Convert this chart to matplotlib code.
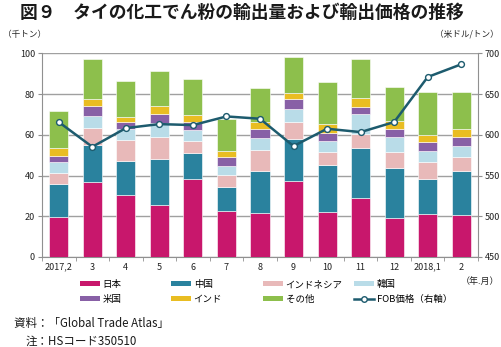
import matplotlib
matplotlib.use("Agg")
import matplotlib.pyplot as plt
import numpy as np
from matplotlib.patches import Patch
from matplotlib.lines import Line2D

plt.rcParams['font.family'] = ['Noto Sans CJK JP', 'DejaVu Sans']

categories = ["2017,2", "3", "4", "5", "6", "7", "8", "9", "10", "11", "12", "2018,1", "2"]
japan     = [19.7, 36.9, 30.5, 25.6, 38.5, 22.6, 21.8, 37.4, 22.1, 29.2, 19.3, 21.3, 20.8]
china     = [15.9, 18.3, 16.4, 22.3, 12.6, 11.8, 20.2, 20.6, 23.0, 24.2, 24.3, 17.1, 21.2]
indonesia = [5.4, 7.9, 10.6, 10.8, 5.9, 5.9, 10.6, 8.1, 6.4, 6.8, 7.9, 8.3, 7.0]
korea     = [5.6, 6.2, 5.1, 6.9, 5.3, 4.6, 5.9, 6.4, 5.5, 10.0, 7.2, 5.4, 5.4]
usa       = [3.2, 4.6, 3.5, 4.4, 3.8, 4.3, 4.3, 4.9, 4.0, 3.4, 4.3, 4.5, 4.6]
india     = [3.6, 3.6, 2.4, 3.9, 3.4, 2.8, 3.6, 3.3, 4.1, 4.6, 3.7, 3.4, 3.6]
others    = [18.4, 19.7, 17.9, 17.6, 17.7, 15.9, 16.6, 17.3, 20.6, 19.0, 16.6, 20.8, 18.4]
fob_price = [615.6, 585.2, 608.2, 613.1, 611.9, 622.5, 619.7, 586.1, 607.4, 603.3, 615.6, 670.9, 686.5]

series_names = ["日本", "中国", "インドネシア", "韓国", "米国", "インド", "その他"]
series_vals = [japan, china, indonesia, korea, usa, india, others]
colors = ["#C8176C", "#2A829E", "#E8B9B9", "#B9DCE8", "#8860A6", "#E9BD22", "#8DBF4C"]
line_color = "#1D5B6E"
line_name = "FOB価格（右軸）"

fig = plt.figure(figsize=(5.01, 3.47), dpi=100)
ax = fig.add_axes([42/501, 1-257/347, (478-42)/501, (257-53.3)/347])

x = np.arange(len(categories))
bottom = np.zeros(len(categories))
for name, vals, c in zip(series_names, series_vals, colors):
    ax.bar(x, vals, width=0.57, bottom=bottom, color=c, edgecolor='white', linewidth=0.4, zorder=3)
    bottom += np.array(vals)

ax.set_xlim(-0.5, len(categories)-0.5)
ax.set_ylim(0, 100)
ax.set_yticks(np.arange(0, 101, 20))
ax.yaxis.grid(True, color='#A0A0A0', linewidth=1.0, zorder=0)
ax.set_axisbelow(True)
for s in ['top', 'right']:
    ax.spines[s].set_visible(False)
ax.spines['left'].set_color('#909090')
ax.spines['bottom'].set_color('#909090')
ax.set_xticks(x)
ax.set_xticklabels(categories)
ax.set_xticks(np.arange(-0.5, len(categories), 1), minor=True)
ax.tick_params(axis='x', which='major', length=0, labelsize=6.5, pad=4, colors='#222222')
ax.tick_params(axis='x', which='minor', length=3, color='#909090')
ax.tick_params(axis='y', length=3, color='#909090', labelsize=6.5, pad=2, labelcolor='#222222')

ax2 = ax.twinx()
ax2.set_ylim(450, 700)
ax2.set_yticks(np.arange(450, 701, 50))
ax2.plot(x, fob_price, color=line_color, linewidth=1.8, marker='o', markersize=4.2,
         markerfacecolor='white', markeredgecolor=line_color, markeredgewidth=1.0, zorder=5)
for s in ['top', 'left', 'bottom']:
    ax2.spines[s].set_visible(False)
ax2.spines['right'].set_color('#909090')
ax2.tick_params(axis='y', length=3, color='#909090', labelsize=6.5, pad=2, labelcolor='#222222')

# Title and axis unit labels
fig.text(20/501, 1-13/347, "図９　タイの化工でん粉の輸出量および輸出価格の推移", fontsize=12.8,
         fontweight='bold', ha='left', va='center', color='#1a1a1a')
fig.text(3/501, 1-34/347, "（千トン）", fontsize=6.2, ha='left', va='center', color='#222222')
fig.text(499/501, 1-34/347, "（米ドル/トン）", fontsize=6.2, ha='right', va='center', color='#222222')
fig.text(499/501, 1-281/347, "（年.月）", fontsize=6.5, ha='right', va='center', color='#222222')

# Legend in 4 columns, placed individually
handles = [Patch(facecolor=c, edgecolor='none') for c in colors]
handles.append(Line2D([0], [0], color=line_color, linewidth=1.8, marker='o', markersize=4,
                      markerfacecolor='white', markeredgecolor=line_color))
labels = series_names + [line_name]
col_x = [80, 171, 263, 354]
for ci in range(4):
    h = [handles[ci], handles[ci+4]]
    l = [labels[ci], labels[ci+4]]
    fig.legend(h, l, loc='upper left', bbox_to_anchor=(col_x[ci]/501, 1-280/347),
               frameon=False, fontsize=6.8, handlelength=2.1, handleheight=0.5,
               handletextpad=0.3, labelspacing=0.6, borderpad=0, borderaxespad=0)

fig.text(14/501, 1-324/347, "資料：「Global Trade Atlas」", fontsize=8.3, ha='left', va='center', color='#1a1a1a')
fig.text(26/501, 1-341/347, "注：HSコード350510", fontsize=8.3, ha='left', va='center', color='#1a1a1a')

fig.savefig("out.png", dpi=100)
